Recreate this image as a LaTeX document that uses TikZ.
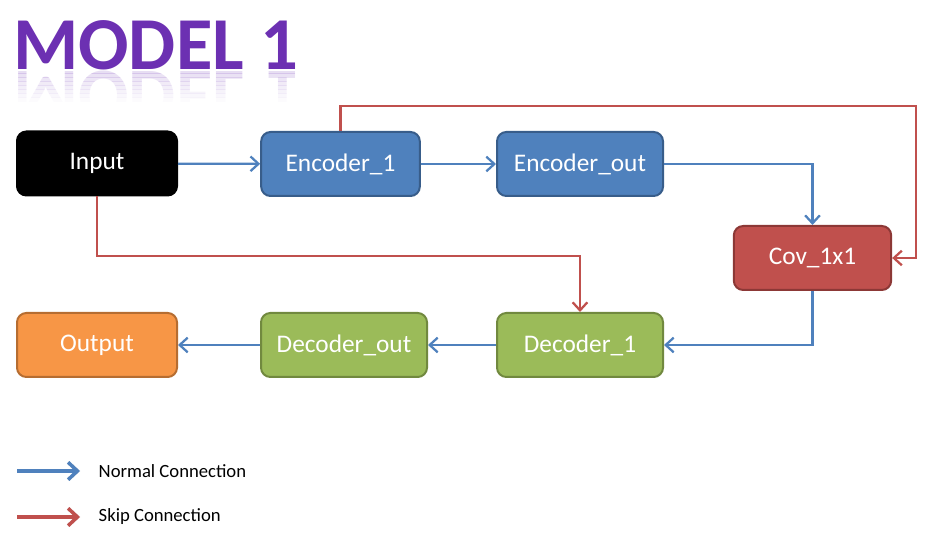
\documentclass[tikz,border=0pt]{standalone}
\usepackage{fontspec}
\setmainfont{Carlito}
\usetikzlibrary{arrows.meta}
\definecolor{titlepurple}{RGB}{108,48,178}
\definecolor{encfill}{RGB}{79,129,189}
\definecolor{encline}{RGB}{56,93,138}
\definecolor{covfill}{RGB}{192,80,77}
\definecolor{covline}{RGB}{140,56,54}
\definecolor{decfill}{RGB}{155,187,89}
\definecolor{decline}{RGB}{113,137,63}
\definecolor{outfill}{RGB}{247,150,70}
\definecolor{outline}{RGB}{182,109,49}
\definecolor{normalblue}{RGB}{79,129,189}
\definecolor{skipred}{RGB}{192,80,77}
\pgfkeys{tikz/mybox/.style={rounded corners=7pt,minimum height=48pt,line width=1.5pt,text=white,font=\fontsize{19}{23}\selectfont}}
\pgfkeys{tikz/normalconn/.style={draw=normalblue,line width=1.7pt,-{Straight Barb[length=6pt,width=11pt,line width=1.7pt]}}}
\pgfkeys{tikz/skipconn/.style={draw=skipred,line width=1.7pt,-{Straight Barb[length=6pt,width=11pt,line width=1.7pt]}}}
\pgfkeys{tikz/legendarrow/.style={line width=2.6pt,-{Straight Barb[length=7pt,width=13pt,line width=2.6pt]}}}
\pgfkeys{tikz/legendtext/.style={anchor=west,font=\fontsize{14}{17}\selectfont}}
\pgfkeys{tikz/titletext/.style={anchor=base,text=titlepurple,font=\fontsize{56}{60}\bfseries}}

\begin{document}
\begin{tikzpicture}[x=0.75pt,y=-0.75pt]
\useasboundingbox (0,0) rectangle (940,545);

% title and its fading reflection
\node[titletext] (title) at (156,70) {MODEL 1};
\foreach \i in {0,...,7} {
  \begin{scope}
    \clip (0,70+4*\i) rectangle (320,74+4*\i);
    \node[titletext,yscale=-1,transform shape,opacity=0.16-0.02*\i] (titlerefl\i) at (156,72) {MODEL 1};
  \end{scope}
}

% blocks
\node[mybox,fill=black,draw=black,minimum width=120pt] (in) at (97,163.5) {Input};
\node[mybox,fill=encfill,draw=encline,minimum width=119pt] (enc1) at (340.5,164) {Encoder\_1};
\node[mybox,fill=encfill,draw=encline,minimum width=124.5pt] (encout) at (580,164) {Encoder\_out};
\node[mybox,fill=covfill,draw=covline,minimum width=118pt] (cov) at (812.5,258) {Cov\_1x1};
\node[mybox,fill=decfill,draw=decline,minimum width=124.5pt] (dec1) at (580,345) {Decoder\_1};
\node[mybox,fill=decfill,draw=decline,minimum width=124.5pt] (decout) at (344,345) {Decoder\_out};
\node[mybox,fill=outfill,draw=outline,minimum width=120pt] (out) at (97,345) {Output};

% normal connections
\draw[normalconn] (in) -- (enc1);
\draw[normalconn] (enc1) -- (encout);
\draw[normalconn] (encout.east) -| (cov.north);
\draw[normalconn] (cov.south) |- (dec1.east);
\draw[normalconn] (dec1) -- (decout);
\draw[normalconn] (decout) -- (out);

% skip connections
\coordinate (skiptop) at (916,106);
\coordinate (skipmid) at (580,256);
\draw[skipconn] (enc1.north) |- (skiptop) |- (cov.east);
\draw[skipconn] (in.south) |- (skipmid) -- (dec1.north);

% legend
\coordinate (normalA) at (17,471);
\coordinate (normalB) at (80,471);
\coordinate (skipA) at (17,517);
\coordinate (skipB) at (80,517);
\draw[legendarrow,draw=black,opacity=0.15,shift={(1.5,1.5)}] (normalA) -- (normalB);
\draw[legendarrow,draw=black,opacity=0.15,shift={(1.5,1.5)}] (skipA) -- (skipB);
\draw[legendarrow,draw=normalblue] (normalA) -- (normalB);
\draw[legendarrow,draw=skipred] (skipA) -- (skipB);
\node[legendtext] (normaltxt) at (94,471) {Normal Connection};
\node[legendtext] (skiptxt) at (94,517) {Skip Connection};

\end{tikzpicture}
\end{document}
